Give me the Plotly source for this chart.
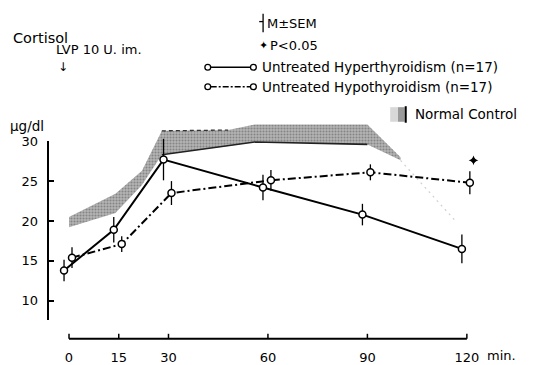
import plotly.graph_objects as go

# ---------------- data ----------------
times = [0, 15, 30, 60, 90, 120]
hyper_mean = [13.8, 18.9, 27.7, 24.2, 20.8, 16.5]
hyper_sem = [1.35, 1.6, 2.6, 1.6, 1.35, 1.8]
hypo_mean = [15.4, 17.1, 23.5, 25.1, 26.1, 24.8]
hypo_sem = [1.3, 1.0, 1.5, 1.3, 1.0, 1.45]

normal_time = [0, 14, 22, 28, 48, 56, 90, 100]
normal_low = [19.2, 21.0, 24.5, 28.3, 29.4, 29.9, 29.6, 27.6]
normal_high = [20.5, 23.4, 26.3, 31.3, 31.4, 32.1, 32.1, 28.0]
normal_tail_time = [100, 117]
normal_tail_val = [27.6, 19.8]

sig_time = [120]
sig_val = [27.6]

x_ticks = [0, 15, 30, 60, 90, 120]
y_ticks = [10, 15, 20, 25, 30]

# ---------------- styling / geometry ----------------
W, H = 540, 365
FONT = "DejaVu Sans"
HYPER_DODGE = -1.5
HYPO_DODGE = 0.9
SIG_DODGE = 2.0

X0_PX, X120_PX = 67, 477          # pixel of 0 and 120 min
Y10_PX, Y30_PX = 302, 138         # pixel of 10 and 30 ug/dl
YAXIS_BOTTOM_PX = 322
XAXIS_PX = 341
YAXIS_X_PX = 45
ppm = (X120_PX - X0_PX) / 120.0
ppu = (Y10_PX - Y30_PX) / 20.0
x_range = [-X0_PX / ppm, (W - X0_PX) / ppm]
y_range = [10 - (H - Y10_PX) / ppu, 10 + Y10_PX / ppu]


def px(x):
    return x / W


def py(y):
    return 1 - y / H


fig = go.Figure()

# normal control band
band_x = normal_time + normal_time[::-1]
band_y = normal_high + normal_low[::-1]
fig.add_trace(go.Scatter(
    x=band_x, y=band_y, mode="lines", fill="toself",
    line=dict(width=0, color="rgba(0,0,0,0)"),
    fillcolor="#a8a8a8",
    fillpattern=dict(shape=".", fgcolor="#555555", bgcolor="#b4b4b4",
                     size=3, solidity=0.4),
    hoverinfo="skip", showlegend=False))
# dark lower edge and dashed upper edge of the band
fig.add_trace(go.Scatter(
    x=normal_time[3:7], y=normal_low[3:7], mode="lines",
    line=dict(color="#222", width=1.6), hoverinfo="skip", showlegend=False))
fig.add_trace(go.Scatter(
    x=normal_time[3:5], y=normal_high[3:5], mode="lines",
    line=dict(color="#333", width=1.3, dash="4px,3px"),
    hoverinfo="skip", showlegend=False))
fig.add_trace(go.Scatter(
    x=normal_tail_time, y=normal_tail_val, mode="lines",
    line=dict(color="#d0d0d0", width=1.2, dash="2px,4px"),
    hoverinfo="skip", showlegend=False))

# hypothyroidism
fig.add_trace(go.Scatter(
    x=[t + HYPO_DODGE for t in times], y=hypo_mean, mode="lines+markers",
    line=dict(color="black", width=2, dash="8px,3px,2px,3px"),
    marker=dict(symbol="circle", size=7, color="white",
                line=dict(color="black", width=1.5)),
    error_y=dict(type="data", array=hypo_sem, color="black",
                 thickness=1.3, width=0),
    showlegend=False))

# hyperthyroidism
fig.add_trace(go.Scatter(
    x=[t + HYPER_DODGE for t in times], y=hyper_mean, mode="lines+markers",
    line=dict(color="black", width=2),
    marker=dict(symbol="circle", size=7, color="white",
                line=dict(color="black", width=1.5)),
    error_y=dict(type="data", array=hyper_sem, color="black",
                 thickness=1.3, width=0),
    showlegend=False))

# significance mark
fig.add_trace(go.Scatter(
    x=[t + SIG_DODGE for t in sig_time], y=sig_val, mode="markers",
    marker=dict(symbol="star-diamond", size=7, color="black"),
    showlegend=False))

# empty traces that create the display-axes subplots
fig.add_trace(go.Scatter(x=[None], y=[None], xaxis="x2", yaxis="y3",
                         mode="markers", showlegend=False, hoverinfo="skip"))
fig.add_trace(go.Scatter(x=[None], y=[None], xaxis="x2", yaxis="y2",
                         mode="markers", showlegend=False, hoverinfo="skip"))

tick_font = dict(family=FONT, size=13, color="black")

fig.update_layout(
    width=W, height=H, autosize=False,
    margin=dict(l=0, r=0, t=0, b=0),
    paper_bgcolor="white", plot_bgcolor="rgba(0,0,0,0)",
    xaxis=dict(domain=[0, 1], range=x_range, visible=False, fixedrange=True),
    yaxis=dict(domain=[0, 1], range=y_range, visible=False, fixedrange=True),
    # x tick labels (line and tick marks are drawn below on the x scale)
    xaxis2=dict(domain=[px(X0_PX), px(X120_PX)], range=[0, 120],
                anchor="y3", showline=False, ticks="",
                tickvals=x_ticks, ticktext=[str(v) for v in x_ticks],
                tickfont=tick_font, ticklabelstandoff=9,
                showgrid=False, zeroline=False, fixedrange=True),
    yaxis3=dict(domain=[py(XAXIS_PX), py(Y30_PX)], range=[0, 1],
                anchor="x2", visible=False, fixedrange=True),
    yaxis2=dict(domain=[py(YAXIS_BOTTOM_PX), py(Y30_PX)],
                range=[10 - (YAXIS_BOTTOM_PX - Y10_PX) / ppu, 30],
                anchor="free", position=px(YAXIS_X_PX),
                showline=True, linecolor="black", linewidth=2,
                ticks="inside", ticklen=5, tickwidth=1.5, tickcolor="black",
                tickvals=y_ticks, ticktext=[str(v) for v in y_ticks],
                tickfont=tick_font, ticklabelstandoff=6,
                showgrid=False, zeroline=False, fixedrange=True),
)

shapes = []
ann = []

# x axis line and inward tick marks on the data x scale
shapes.append(dict(type="line", xref="x", yref="paper",
                   x0=x_ticks[0], x1=x_ticks[-1], y0=py(XAXIS_PX), y1=py(XAXIS_PX),
                   line=dict(color="black", width=2)))
for t in x_ticks:
    shapes.append(dict(type="line", xref="x", yref="paper",
                       x0=t, x1=t, y0=py(XAXIS_PX), y1=py(XAXIS_PX - 5),
                       line=dict(color="black", width=1.5)))


def text(x, y, s, size=13.5, anchor="left"):
    ann.append(dict(x=px(x), y=py(y), xref="paper", yref="paper", text=s,
                    showarrow=False, xanchor=anchor, yanchor="middle",
                    borderpad=0,
                    font=dict(family=FONT, size=size, color="black")))


def circle(cx, cy, r=3):
    shapes.append(dict(type="circle", xref="paper", yref="paper",
                       x0=px(cx - r), x1=px(cx + r), y0=py(cy + r), y1=py(cy - r),
                       line=dict(color="black", width=1.3), fillcolor="white"))


def seg(x0, y0, x1, y1, w=1.5, dash="solid", color="black"):
    shapes.append(dict(type="line", xref="paper", yref="paper",
                       x0=px(x0), y0=py(y0), x1=px(x1), y1=py(y1),
                       line=dict(color=color, width=w, dash=dash)))


# titles
text(8, 32, "Cortisol", size=14.5)
text(53, 44, "LVP 10 U. im.", size=13)
text(55, 62, "↓", size=12)
text(5, 122, "μg/dl", size=13.5)
text(497, 358, "min.", size=13)

# M±SEM key
seg(267, 7, 267, 26, w=1.3)
seg(263, 15, 267, 15, w=1.3)
text(270, 17, "M±SEM", size=13)
text(262, 40, "✦", size=11)
text(273, 40, "P<0.05", size=13)

# legend rows
seg(213, 62, 254, 62, w=1.5)
circle(210, 62)
circle(257, 62)
text(265, 62, "Untreated Hyperthyroidism (n=17)", size=13.5)
seg(213, 82, 254, 82, w=1.5, dash="6px,2px,2px,2px")
circle(210, 82)
circle(257, 82)
text(265, 82, "Untreated Hypothyroidism (n=17)", size=13.5)

# normal control swatch
shapes.append(dict(type="rect", xref="paper", yref="paper",
                   x0=px(398), x1=px(406), y0=py(118), y1=py(103),
                   line=dict(width=0), fillcolor="#d8d8d8"))
shapes.append(dict(type="rect", xref="paper", yref="paper",
                   x0=px(406), x1=px(413), y0=py(118), y1=py(103),
                   line=dict(width=0), fillcolor="#9a9a9a"))
seg(414, 102, 414, 119, w=2)
text(423, 110, "Normal Control", size=13.5)

fig.update_layout(shapes=shapes, annotations=ann)

fig.write_html("out.html")
